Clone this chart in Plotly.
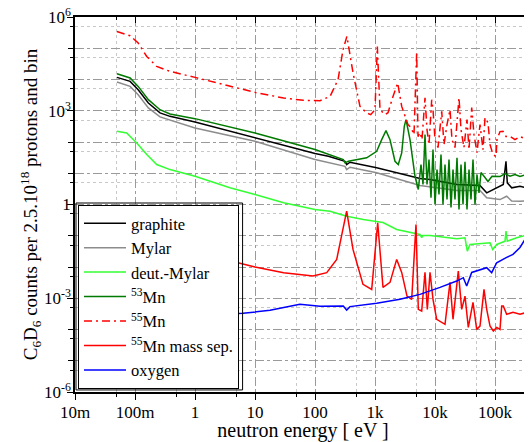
import plotly.graph_objects as go

# ---------------- data ----------------
graphite_E = [0.05, 0.083, 0.113, 0.167, 0.261, 0.383, 1, 10, 56, 100, 167, 316, 337, 383, 1067, 5623, 8254,
              23260, 56230, 72780, 106700, 137500, 152400, 160300, 189900, 261000, 413000]
graphite_C = [1.17e4, 8.7e3, 4.72e3, 1.77e3, 851, 662, 439, 141, 57.2, 42.6, 34.9, 24.2, 19.0, 22.5, 14.9, 6.8,
              6.3, 4.36, 4.05, 2.36, 3.42, 4.36, 24.2, 4.93, 3.42, 3.84, 3.01]

mylar_E = [0.05, 0.083, 0.113, 0.167, 0.261, 0.383, 1, 10, 100, 316, 337, 383, 1067, 5623, 23260, 56230,
           72780, 121200, 156400, 189900, 261000, 413000]
mylar_C = [8.3e3, 6.02e3, 3.27e3, 1.23e3, 634, 496, 282, 105, 27.4, 16.7, 13.1, 15.6, 10.3, 4.05, 2.8, 2.8,
           1.64, 1.44, 1.84, 1.3, 1.27, 1.34]

deut_E = [0.05, 0.0727, 0.107, 0.157, 0.230, 0.383, 1, 3.83, 10, 30, 100, 178, 337, 638, 1359, 2299, 5623,
          6000, 6310, 8254, 23010, 31620, 34540, 38310, 82540, 91560, 106700, 146800, 152400, 160300,
          230100, 359000, 413000]
deut_C = [220, 195, 93.5, 39.6, 19.0, 13.1, 8.02, 3.42, 2.09, 1.13, 0.69, 0.61, 0.423, 0.332, 0.266, 0.159,
          0.110, 0.0863, 0.102, 0.102, 0.0802, 0.0863, 0.0322, 0.0527, 0.0597, 0.0365, 0.0527, 0.0672,
          0.140, 0.0672, 0.0863, 0.110, 0.137]

mn53_E = [0.05, 0.083, 0.113, 0.167, 0.261, 0.383, 1, 10, 100, 296, 316, 359, 727, 1067, 1293, 1525, 1778,
          2154, 2445, 2786, 3078, 3287, 3831, 4642, 5270, 5843, 6310, 6813, 7356, 7943, 8577, 9261, 10000,
          10800, 11660, 12590, 13590, 14680, 15850, 17110, 18480, 19950, 21540, 23260, 25120, 27120, 29290,
          31620, 34150, 36870, 39810, 42990, 46420, 50120, 54120, 58430, 68130, 76380, 89130, 121200,
          146800, 177800, 215400, 261000, 328800, 413000]
mn53_C = [1.53e4, 1.12e4, 6.02e3, 2.26e3, 1.08e3, 790, 559, 195, 57.2, 27.4, 21.5, 24.2, 31.1, 50.5, 119,
          231, 119, 24.2, 19.0, 44.9, 318, 520, 119, 8.02, 3.01, 19.0, 4.36, 172, 4.36, 27.4, 1.64, 57.2,
          1.0, 13.1, 2.09, 39.6, 1.0, 19.0, 1.44, 27.4, 0.80, 13.1, 1.44, 31.1, 0.69, 19.0, 1.0, 23.1, 0.69,
          13.1, 1.44, 27.4, 1.0, 9.09, 2.36, 10.5, 7.29, 5.43, 8.02, 7.85, 9.78, 8.02, 9.09, 7.85, 9.09, 8.45]

mn55_E = [0.05, 0.083, 0.113, 0.157, 0.230, 0.383, 1, 2.3, 4.95, 10, 30, 64, 121, 178, 242, 293, 340, 430,
          562, 727, 848, 1000, 1093, 1212, 1468, 1648, 1995, 2389, 2786, 3162, 3548, 3981, 4467, 4955, 5208,
          5623, 6070, 6813, 7356, 7943, 8810, 9261, 10000, 11220, 12940, 14130, 15850, 17780, 19180, 21540,
          25120, 27120, 30400, 34150, 36870, 40890, 44670, 50120, 56230, 63100, 68130, 76380, 82540, 92660,
          103900, 107900, 121200, 135900, 152400, 177800, 215400, 261000, 316200, 413000]
mn55_C = [3.44e5, 2.51e5, 1.47e5, 5.47e4, 2.62e4, 1.82e4, 1.17e4, 7.73e3, 5.35e3, 3.87e3, 2.56e3, 2.15e3,
          2.1e3, 2.88e3, 9.86e3, 8.96e4, 2.4e5, 1.65e4, 1.38e3, 851, 750, 1.08e3, 1.14e5, 1.08e3, 750, 869,
          2.88e3, 7.73e3, 1.38e3, 662, 360, 288, 172, 7.9e4, 149, 200, 119, 2.62e3, 249, 82.6, 2.26e3,
          1.08e3, 119, 66.2, 957, 82.6, 360, 1.08e3, 119, 66.2, 2.62e3, 249, 66.2, 520, 57.2, 1.26e3, 172,
          45.8, 360, 57.2, 602, 417, 82.6, 39.6, 34.2, 119, 215, 220, 149, 152, 119, 149, 128, 138]

mn55ms_E = [0.05, 0.083, 0.113, 0.157, 0.230, 0.383, 1, 2.3, 4.95, 10, 30, 56, 92.6, 157, 230, 337, 430,
            631, 881, 1109, 1359, 1778, 2299, 2786, 3414, 4090, 4822, 5270, 6000, 6813, 7447, 8254, 9261,
            10670, 14680, 17780, 19950, 24450, 27860, 31620, 35890, 42990, 49550, 56230, 65580, 72780,
            82540, 93750, 106700, 121200, 129300, 137500, 156400, 199500, 261000, 337100, 413000]
mn55ms_C = [0.882, 0.643, 0.376, 0.140, 0.0672, 0.0465, 0.0300, 0.0198, 0.0137, 0.0100, 0.00657, 0.00581,
            0.00512, 0.00657, 0.0175, 0.61, 0.0365, 0.00278, 0.00192, 0.261, 0.00223, 0.00322, 0.0175,
            0.00671, 0.00117, 0.000922, 0.230, 0.000442, 0.00039, 0.00671, 0.000442, 0.00671, 0.000922,
            0.000212, 0.000147, 0.00322, 0.000212, 0.0074, 0.000442, 0.00117, 0.000117, 0.00074, 0.000101,
            0.000129, 0.00192, 0.000442, 0.000129, 0.0000895, 0.000117, 0.000101, 0.000564, 0.000564,
            0.000306, 0.000355, 0.000306, 0.000355, 0.000355]

oxygen_E = [0.05, 0.1, 0.261, 1.21, 6.31, 17.8, 56, 121, 296, 337, 383, 1067, 2610, 5623, 12120, 23010,
            29650, 33740, 40890, 72780, 88110, 106700, 156400, 199500, 261000, 316200, 359000, 413000]
oxygen_C = [0.00166, 0.000512, 0.000306, 0.000284, 0.00033, 0.00041, 0.000638, 0.000551, 0.000564,
            0.00042, 0.00054, 0.000687, 0.000922, 0.00133, 0.00223, 0.00355, 0.00455, 0.00245, 0.00671,
            0.0095, 0.00657, 0.0137, 0.0203, 0.0253, 0.0423, 0.0762, 0.128, 0.384]

x_tickvals = [0.01, 0.1, 1, 10, 100, 1000, 1e4, 1e5]
x_ticktext = ["10m", "100m", "1", "10", "100", "1k", "10k", "100k"]
x_minor = [0.05, 0.5, 5, 50, 500, 5000, 5e4]
y_label_vals = [1e-6, 1e-3, 1, 1e3, 1e6]
y_label_text = ["10<sup>-6</sup>", "10<sup>-3</sup>", "1", "10<sup>3</sup>", "10<sup>6</sup>"]
y_other_decades = [1e-5, 1e-4, 1e-2, 1e-1, 10, 100, 1e4, 1e5]
y_all_decades = [1e-6, 1e-5, 1e-4, 1e-3, 1e-2, 1e-1, 1, 10, 100, 1e3, 1e4, 1e5, 1e6]
y_minor = [5e-6, 5e-5, 5e-4, 5e-3, 5e-2, 0.5, 5, 50, 500, 5e3, 5e4, 5e5]

# ---------------- figure ----------------
FONT = "Liberation Serif, Times New Roman, serif"
series = [
    ("graphite", graphite_E, graphite_C, "#000000", "solid"),
    ("Mylar", mylar_E, mylar_C, "#8c8c8c", "solid"),
    ("deut.-Mylar", deut_E, deut_C, "#33ff33", "solid"),
    ("<sup>53</sup>Mn", mn53_E, mn53_C, "#007a00", "solid"),
    ("<sup>55</sup>Mn", mn55_E, mn55_C, "#ff0000", "8px,4px,2px,4px"),
    ("<sup>55</sup>Mn mass sep.", mn55ms_E, mn55ms_C, "#ff0000", "solid"),
    ("oxygen", oxygen_E, oxygen_C, "#0000ff", "solid"),
]

fig = go.Figure()
for i, (name, xs, ys, col, dash) in enumerate(series):
    fig.add_trace(go.Scatter(x=xs, y=ys, mode="lines", name=name, legendgroup=f"g{i}",
                             line=dict(color=col, width=1.5, dash=dash)))

# invisible helper traces so the extra tick-only axes are drawn
fig.add_trace(go.Scatter(x=graphite_E, y=graphite_C, mode="lines", xaxis="x2", yaxis="y2",
                         line=dict(width=0), opacity=0, showlegend=False, hoverinfo="skip"))
fig.add_trace(go.Scatter(x=graphite_E, y=graphite_C, mode="lines", xaxis="x", yaxis="y3",
                         line=dict(width=0), opacity=0, showlegend=False, hoverinfo="skip"))

xr = [-2, 5.6]
yr = [-6, 6]
grid_major = "#9a9a9a"
grid_minor = "#c8c8c8"

# the page body adds an 8px offset, so the figure is 8px smaller and margins reduced accordingly
fig.update_layout(
    width=524, height=434,
    margin=dict(l=67, r=1, t=9, b=50),
    paper_bgcolor="white", plot_bgcolor="white",
    font=dict(family=FONT, size=17, color="black"),
    showlegend=True,
    legend=dict(x=0.0066, y=0.4987, xanchor="left", yanchor="top",
                bgcolor="white", bordercolor="black", borderwidth=1,
                font=dict(family=FONT, size=16.5), tracegroupgap=0, itemwidth=42),
    shapes=[dict(type="rect", xref="paper", yref="paper", x0=0.0022, x1=0.3675, y0=0.0055, y1=0.504,
                 line=dict(color="black", width=1), fillcolor="rgba(0,0,0,0)", layer="above")],
    xaxis=dict(type="log", range=xr, tickvals=x_tickvals, ticktext=x_ticktext, automargin=False,
               ticks="outside", ticklen=6, tickcolor="black", showline=True, linecolor="black",
               linewidth=1.5, mirror=True, showgrid=True, gridcolor=grid_major, griddash="dashdot",
               gridwidth=1, zeroline=False, tickfont=dict(family=FONT, size=17), ticklabelstandoff=-2,
               ticklabeloverflow="allow",
               minor=dict(tickvals=x_minor, ticks="outside", ticklen=3, tickcolor="black",
                          showgrid=True, gridcolor=grid_minor, griddash="dot", gridwidth=1),
               title=dict(text="neutron energy [ eV ]", font=dict(family=FONT, size=20), standoff=2)),
    yaxis=dict(type="log", range=yr, tickvals=y_label_vals, ticktext=y_label_text, automargin=False,
               ticks="outside", ticklen=6, tickcolor="black", showline=True, linecolor="black",
               linewidth=1.5, mirror=True, showgrid=True, gridcolor=grid_major, griddash="dashdot",
               gridwidth=1, zeroline=False, tickfont=dict(family=FONT, size=17), ticklabelstandoff=-7,
               ticklabeloverflow="allow",
               minor=dict(tickvals=y_minor, ticks="outside", ticklen=3, tickcolor="black",
                          showgrid=True, gridcolor=grid_minor, griddash="dot", gridwidth=1),
               title=dict(text="C<sub>6</sub>D<sub>6</sub> counts per 2.5.10<sup>18</sup> protons and bin",
                          font=dict(family=FONT, size=19), standoff=0)),
    yaxis3=dict(type="log", range=yr, overlaying="y", side="left", anchor="x", tickvals=y_other_decades,
                showticklabels=False, ticks="outside", ticklen=6, tickcolor="black", automargin=False,
                showgrid=True, gridcolor=grid_major, griddash="dashdot", gridwidth=1,
                showline=False, zeroline=False),
    xaxis2=dict(type="log", range=xr, overlaying="x", side="top", anchor="y", tickvals=x_tickvals,
                showticklabels=False, ticks="inside", ticklen=6, tickcolor="black", showgrid=False,
                showline=False, zeroline=False, automargin=False,
                minor=dict(tickvals=x_minor, ticks="inside", ticklen=3, tickcolor="black", showgrid=False)),
    yaxis2=dict(type="log", range=yr, overlaying="y", side="right", anchor="x", tickvals=y_all_decades,
                showticklabels=False, ticks="inside", ticklen=6, tickcolor="black", showgrid=False,
                showline=False, zeroline=False, automargin=False,
                minor=dict(tickvals=y_minor, ticks="inside", ticklen=3, tickcolor="black", showgrid=False)),
)

fig.write_html("out.html")
